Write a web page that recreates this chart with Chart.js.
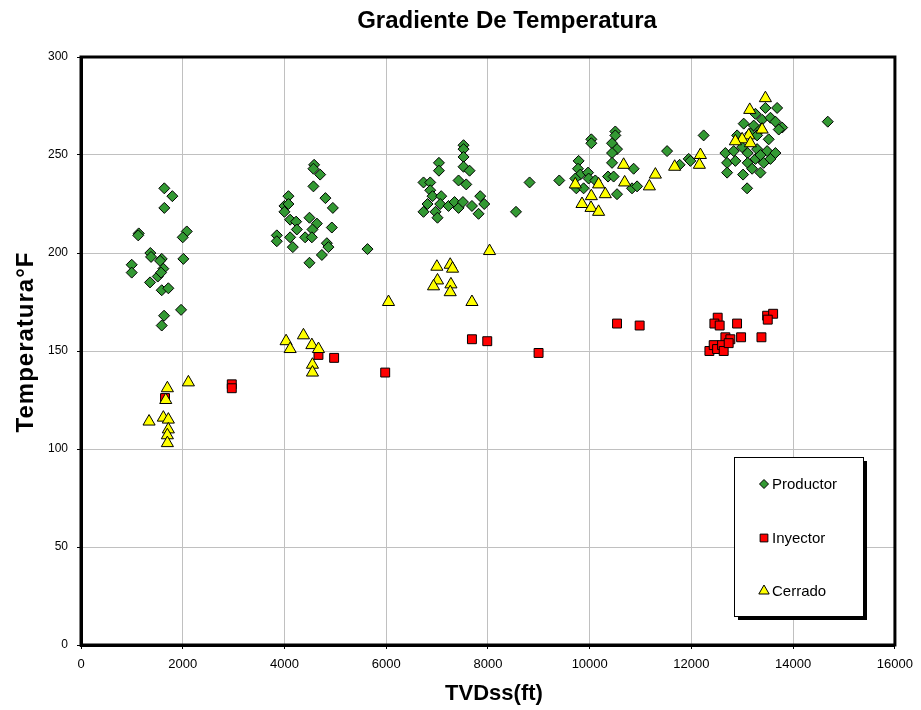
<!DOCTYPE html>
<html>
<head>
<meta charset="utf-8">
<title>Gradiente De Temperatura</title>
<script src="https://cdn.jsdelivr.net/npm/chart.js@4/dist/chart.umd.min.js"></script>
<style>
  body { margin: 0; background: #fff; }
  #chart { display: block; }
</style>
</head>
<body>
<canvas id="chart" width="921" height="710"></canvas>
<script>
// --- data (TVDss ft, °F) ---
const productorX = [
  1638, 1796, 1638, 1135, 1125, 2079, 2000, 1363, 1377, 1587, 2012, 997, 1619, 997, 1357, 1509, 1574, 1587, 1717, 1967, 1633, 1587, 1554,
  4583, 4569, 4701, 4569, 4078, 3999, 4078, 3999, 4805, 4951, 4111, 4229, 4491, 4636, 4931, 4243, 4550, 3849, 4111, 4406, 4538, 3849, 4164, 4833, 4864, 4735, 4491, 5632,
  7520, 7520, 7520, 7036, 7036, 7520, 7638, 6733, 6865, 7422, 7573, 6865, 6910, 7081, 6812, 7062, 7225, 7343, 7422, 7508, 7848, 7685, 7927, 7815, 6733, 6969, 7008, 8818, 9402, 8551,
  10032, 10032, 10504, 10504, 10439, 10537, 10439, 10439, 9782, 9770, 9815, 9967, 9717, 9979, 10110, 10360, 10470, 9737, 9880, 10537, 10832, 10931, 10864, 11521, 11768, 11946, 11979, 12240,
  13684, 13454, 13258, 13389, 13553, 13651, 13783, 13716, 13027, 13224, 13356, 12898, 13159, 13291, 13519, 12667, 12831, 12996, 13106, 13291, 13488, 13651, 12701, 12864, 13106, 13258, 13356, 13421, 13553, 12701, 13015, 13193, 13356, 13094, 14680
];
const productorY = [
  233, 229, 223, 210, 209, 211, 208, 200, 198, 197, 197, 194, 192, 190, 185, 188, 190, 181, 182, 171, 168, 163, 196,
  245, 243, 240, 234, 229, 224, 225, 221, 228, 223, 217, 216, 218, 215, 213, 212, 212, 209, 208, 208, 208, 206, 203, 205, 203, 199, 195, 202,
  255, 253, 249, 246, 242, 244, 242, 236, 236, 237, 235, 232, 229, 229, 225, 225, 224, 226, 223, 226, 229, 224, 225, 220, 221, 221, 218, 236, 237, 221,
  258, 256, 262, 260, 256, 253, 251, 246, 247, 243, 240, 241, 238, 238, 237, 239, 239, 233, 233, 230, 233, 234, 243, 252, 245, 248, 247, 260,
  274, 274, 271, 268, 269, 267, 264, 263, 266, 265, 263, 260, 261, 260, 258, 251, 252, 254, 251, 253, 252, 251, 246, 247, 246, 248, 250, 246, 248, 241, 240, 243, 241, 233, 267
];

const inyectorX = [1652, 2964, 2964, 4668, 4976, 5980, 7685, 7986, 8995, 10537, 10982,
  12516, 12451, 12555, 12897, 13488, 13606, 13500, 12667, 12765, 12976, 13376, 12353, 12437, 12504, 12602, 12634, 12732];
const inyectorY = [126, 133, 131, 148, 146.5, 139, 156, 155, 149, 164, 163,
  167, 164, 163, 164, 168, 169, 166, 157, 156, 157, 157, 150, 153, 151, 153, 150, 154];

const cerradoX = [1698, 1666, 2111, 1338, 1619, 1717, 1717, 1698, 1698,
  4032, 4111, 4373, 4538, 4668, 4550, 4550,
  6045, 6996, 7258, 7304, 7008, 6930, 7272, 7258, 7685, 8031,
  9717, 9849, 10032, 10026, 10175, 10175, 10307, 10667, 10687, 11173, 11291, 11670, 12176, 12156,
  13454, 13146, 13389, 13126, 12996, 12864, 13159];
const cerradoY = [131, 125, 134, 114, 116, 115, 110, 107, 103,
  155, 151, 158, 153, 151, 143, 139,
  175, 193, 194, 192, 186, 183, 184, 180, 175, 201,
  235, 225, 229, 223, 235, 221, 230, 245, 236, 234, 240, 244, 250, 245,
  279, 273, 263, 260, 258, 257, 256];

const xTicks = [0, 2000, 4000, 6000, 8000, 10000, 12000, 14000, 16000];
const yTicks = [0, 50, 100, 150, 200, 250, 300];

const chartTitle = "Gradiente De Temperatura";
const xTitle = "TVDss(ft)";
const yTitle = "Temperatura°F";

function toPoints(xs, ys) {
  return xs.map((x, i) => ({ x: x, y: ys[i] }));
}

const seriesStyle = {
  Productor: { style: "rectRot", fill: "#339933", radius: 5.5 },
  Inyector: { style: "rect", fill: "#ff0000", radius: 6.3 },
  Cerrado: { style: "triangle", fill: "#ffff00", radius: 7 }
};

function makeDataset(label, xs, ys, order) {
  const s = seriesStyle[label];
  return {
    label: label,
    data: toPoints(xs, ys),
    order: order,
    pointStyle: s.style,
    pointRadius: s.radius,
    pointHoverRadius: s.radius,
    pointBackgroundColor: s.fill,
    pointBorderColor: "#000",
    pointBorderWidth: 1,
    showLine: false
  };
}

const FONT = "'Liberation Sans', Arial, sans-serif";

// frame, titles and a boxed legend with shadow
const framePlugin = {
  id: "frame",
  beforeDatasetsDraw(chart) {
    const { ctx, chartArea: a } = chart;
    ctx.save();
    ctx.strokeStyle = "#000";
    ctx.lineWidth = 3;
    ctx.strokeRect(a.left, a.top, a.right - a.left, a.bottom - a.top);
    ctx.restore();
  },
  afterDraw(chart) {
    const ctx = chart.ctx;
    ctx.save();
    ctx.fillStyle = "#000";
    ctx.textAlign = "center";
    ctx.textBaseline = "middle";

    ctx.font = "bold 24px " + FONT;
    ctx.fillText(chartTitle, 507, 21);

    ctx.font = "bold 22px " + FONT;
    ctx.fillText(xTitle, 494, 694);

    ctx.save();
    ctx.translate(26, 342);
    ctx.rotate(-Math.PI / 2);
    ctx.font = "bold 24px " + FONT;
    ctx.letterSpacing = "1px";
    ctx.fillText(yTitle, 0, 0);
    ctx.restore();

    const box = { x: 734, y: 457, w: 129, h: 159 };
    ctx.fillStyle = "#000";
    ctx.fillRect(box.x + 4, box.y + 4, box.w, box.h);
    ctx.fillStyle = "#fff";
    ctx.fillRect(box.x, box.y, box.w, box.h);
    ctx.strokeStyle = "#000";
    ctx.lineWidth = 1;
    ctx.strokeRect(box.x + 0.5, box.y + 0.5, box.w, box.h);

    const rows = [484, 538, 591];
    const legendRadius = { Productor: 4.5, Inyector: 5.5, Cerrado: 6 };
    chart.data.datasets.slice().sort((a, b) => b.order - a.order).forEach((ds, i) => {
      const y = rows[i];
      ctx.fillStyle = ds.pointBackgroundColor;
      ctx.strokeStyle = "#000";
      ctx.lineWidth = 1;
      Chart.helpers.drawPoint(ctx, {
        pointStyle: ds.pointStyle,
        radius: legendRadius[ds.label],
        borderWidth: 1,
        rotation: 0
      }, 764, y);
      ctx.fillStyle = "#000";
      ctx.font = "15px " + FONT;
      ctx.textBaseline = "middle";
      ctx.textAlign = "left";
      ctx.fillText(ds.label, 772, y + 1);
    });
    ctx.restore();
  }
};

const ctx = document.getElementById("chart").getContext("2d");

Chart.defaults.font.family = FONT;
Chart.defaults.color = "#000";

const chart = new Chart(ctx, {
  type: "scatter",
  data: {
    datasets: [
      makeDataset("Productor", productorX, productorY, 2),
      makeDataset("Inyector", inyectorX, inyectorY, 1),
      makeDataset("Cerrado", cerradoX, cerradoY, 0)
    ]
  },
  options: {
    responsive: false,
    animation: false,
    layout: { padding: { left: 0, right: 25, top: 57, bottom: 0 } },
    plugins: {
      legend: { display: false },
      tooltip: { enabled: false },
      title: { display: false }
    },
    scales: {
      x: {
        type: "linear",
        min: 0,
        max: 16000,
        afterBuildTicks(scale) { scale.ticks = xTicks.map(v => ({ value: v })); },
        afterFit(scale) { scale.height = 65; },
        ticks: { font: { size: 13 }, color: "#000", padding: 8, maxRotation: 0, callback: v => String(v) },
        grid: { color: "#c0c0c0", lineWidth: 1, tickLength: 4, tickColor: "#000" },
        border: { color: "#000", width: 3 }
      },
      y: {
        type: "linear",
        min: 0,
        max: 300,
        afterBuildTicks(scale) { scale.ticks = yTicks.map(v => ({ value: v })); },
        afterFit(scale) { scale.width = 81; },
        ticks: { font: { size: 12 }, color: "#000", padding: 9, callback: v => String(v) },
        grid: { color: "#c0c0c0", lineWidth: 1, tickLength: 4, tickColor: "#000" },
        border: { color: "#000", width: 3 }
      }
    }
  },
  plugins: [framePlugin]
});
</script>
</body>
</html>
